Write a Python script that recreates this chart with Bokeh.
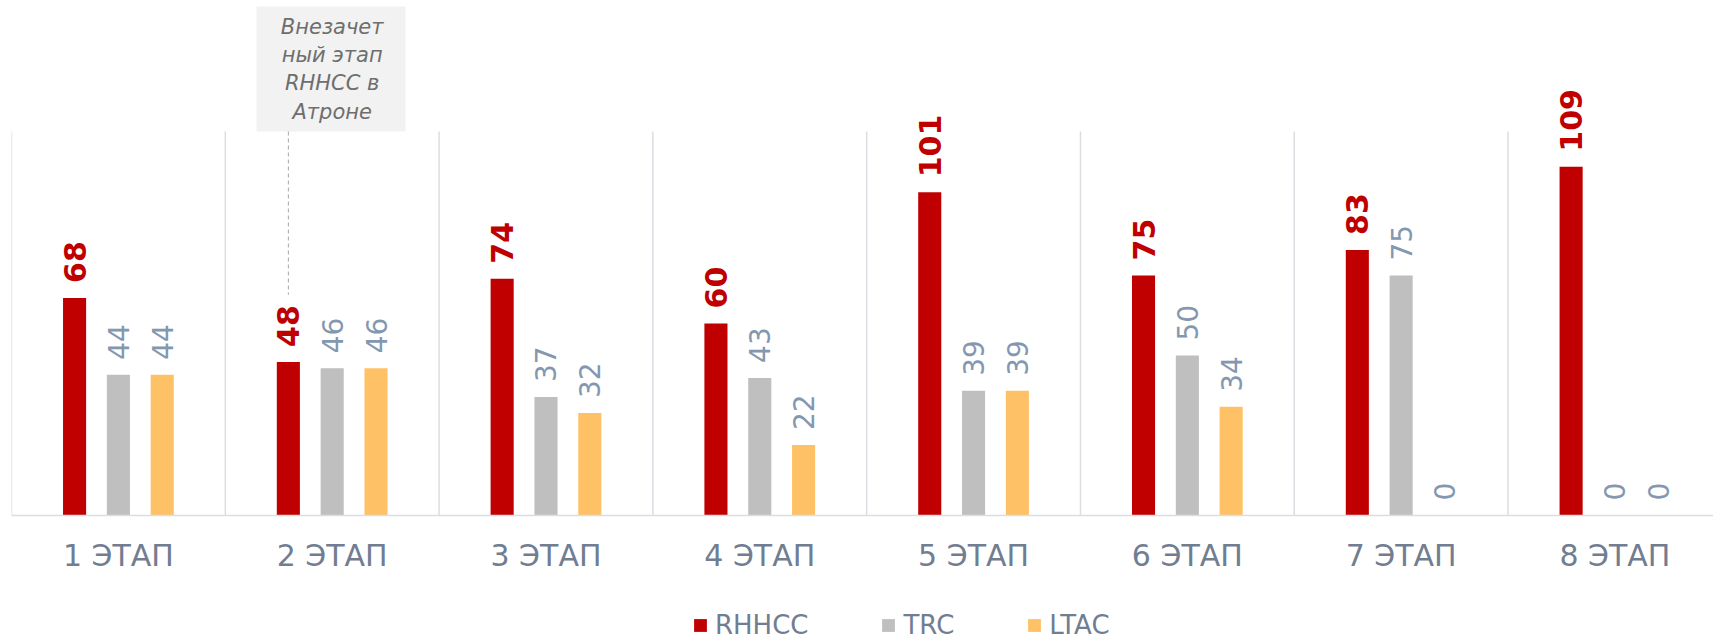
import math
from bokeh.plotting import figure
from bokeh.models import Range1d, FixedTicker, Legend, LegendItem, ColumnDataSource
from bokeh.core.properties import value
from bokeh.embed import file_html
from bokeh.resources import INLINE

# ---------------- data ----------------
stages = ["1 ЭТАП", "2 ЭТАП", "3 ЭТАП", "4 ЭТАП", "5 ЭТАП", "6 ЭТАП", "7 ЭТАП", "8 ЭТАП"]
series_names = ["RHHCC", "TRC", "LTAC"]
rhhcc = [68, 48, 74, 60, 101, 75, 83, 109]
trc = [44, 46, 37, 43, 39, 50, 75, 0]
ltac = [44, 46, 32, 22, 39, 34, 0, 0]
note_lines = ["Внезачет", "ный этап", "RHHCC в", "Атроне"]
note_stage = 1          # index of the stage the note refers to
note_target = 69        # where the dashed leader ends (value units)
plot_top = 120          # top of the plot area (value units)

# ---------------- style ----------------
colors = ["#C00000", "#BFBFBF", "#FFC166"]
label_colors = ["#C00000", "#8497B0", "#8497B0"]
axis_text = "#717D91"
sep_color = "#DADEE3"
FONT = value("DejaVu Sans")
offsets = [-0.205, 0.0, 0.205]
bar_w = 0.108

W, H = 1713, 639
p = figure(width=W, height=H, output_backend="svg", toolbar_location=None,
           x_range=Range1d(0, 7.961), y_range=Range1d(-38.75, 159.06),
           y_axis_location=None,
           min_border_left=11, min_border_right=0, min_border_top=6,
           min_border_bottom=0)
p.outline_line_color = None
p.grid.visible = False
p.background_fill_color = "white"
p.border_fill_color = "white"

# separators between stages
bounds = list(range(len(stages)))
p.segment(x0=bounds, x1=bounds, y0=[0] * len(bounds), y1=[plot_top] * len(bounds),
          line_color=sep_color, line_width=1.5)

centers = [i + 0.5 for i in range(len(stages))]
renderers = []
for k, (name, vals) in enumerate(zip(series_names, [rhhcc, trc, ltac])):
    xs = [c + offsets[k] for c in centers]
    src = ColumnDataSource(dict(x=xs, top=vals, txt=[str(v) for v in vals]))
    r = p.vbar(x="x", top="top", bottom=0, width=bar_w, source=src,
               fill_color=colors[k], line_color=None)
    renderers.append(r)
    p.text(x="x", y="top", text="txt", source=src, angle=math.pi / 2,
           text_align="left", text_baseline="middle", y_offset=-15,
           text_font=FONT, text_font_size="30px" if k == 0 else "28px",
           text_font_style="bold" if k == 0 else "normal",
           text_color=label_colors[k])

# note box with dashed leader
nc = centers[note_stage]
p.quad(left=[nc - 0.354], right=[nc + 0.343], bottom=[plot_top], top=[170],
       fill_color="#F2F2F2", line_color=None)
line_step = 8.9
mid = (len(note_lines) - 1) / 2
p.text(x=[nc] * len(note_lines),
       y=[139.45 + (mid - i) * line_step for i in range(len(note_lines))],
       text=note_lines, text_align="center", text_baseline="middle",
       text_font=FONT, text_font_size="21px", text_font_style="italic",
       text_color="#6E6E6E")
lx = nc + offsets[0]
p.segment(x0=[lx], x1=[lx], y0=[plot_top], y1=[note_target],
          line_color="#A6A6A6", line_width=1, line_dash="4 3")

# x axis, pinned at value 0
ax = p.xaxis[0]
ax.fixed_location = 0
ax.ticker = FixedTicker(ticks=centers)
ax.major_label_overrides = {c: s for c, s in zip(centers, stages)}
ax.major_tick_line_color = None
ax.minor_tick_line_color = None
ax.axis_line_color = sep_color
ax.axis_line_width = 1.5
ax.major_label_standoff = 17
ax.major_label_text_font = "DejaVu Sans"
ax.major_label_text_font_size = "30px"
ax.major_label_text_color = axis_text

legend = Legend(items=[LegendItem(label=n, renderers=[r]) for n, r in zip(series_names, renderers)],
                orientation="horizontal", location=(681, -1),
                glyph_width=16, glyph_height=16, label_standoff=7, spacing=72,
                padding=0, margin=0, border_line_alpha=0, background_fill_alpha=0,
                label_text_font="DejaVu Sans", label_text_font_size="26px",
                label_text_color=axis_text)
p.add_layout(legend)

open("out.html", "w").write(file_html(p, INLINE))
